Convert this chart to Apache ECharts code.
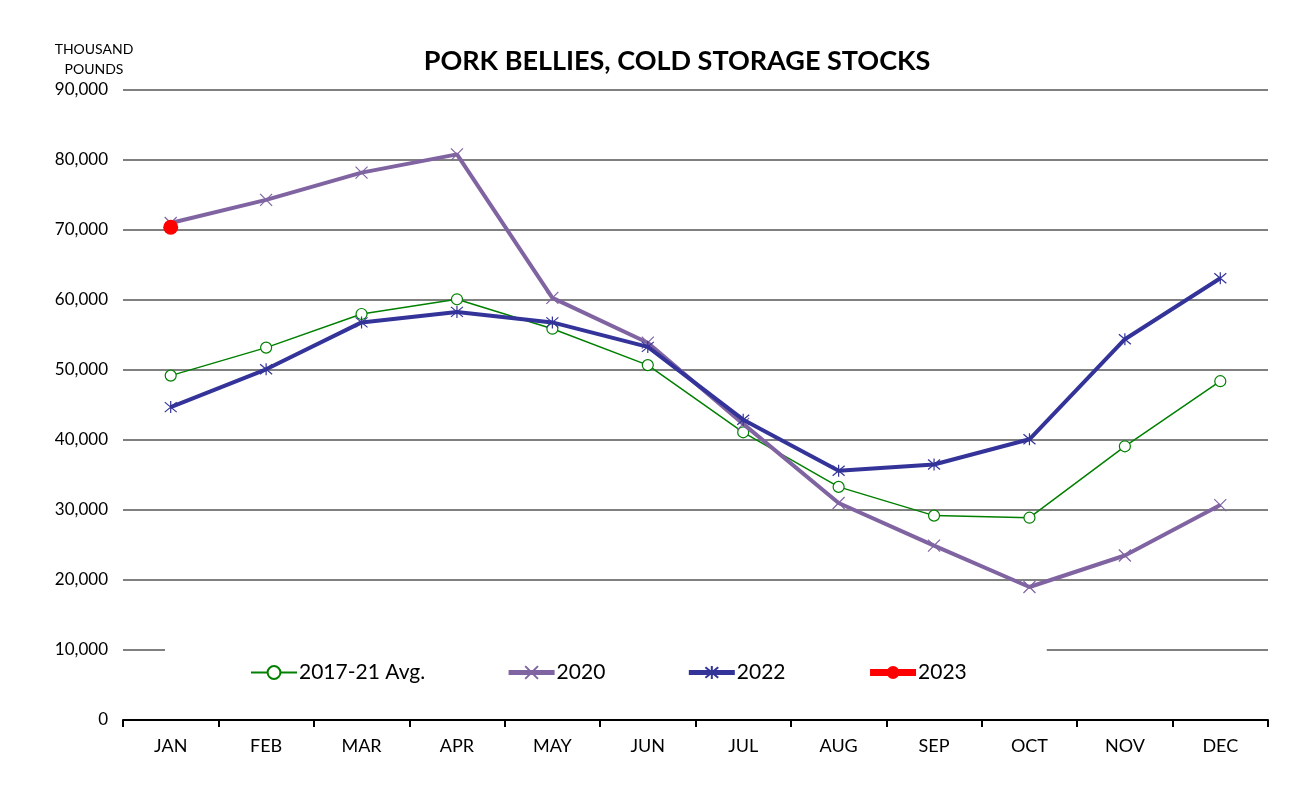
<!DOCTYPE html>
<html>
<head>
<meta charset="utf-8">
<script src="https://cdn.jsdelivr.net/npm/echarts@6/dist/echarts.min.js"></script>
<style>
  html, body { margin: 0; padding: 0; background: #fff; }
  #main { width: 1308px; height: 801px; }
</style>
</head>
<body>
<div id="main"></div>
<script>
var months = ['JAN', 'FEB', 'MAR', 'APR', 'MAY', 'JUN', 'JUL', 'AUG', 'SEP', 'OCT', 'NOV', 'DEC'];
var avg1721 = [49200, 53200, 58000, 60100, 55900, 50700, 41100, 33300, 29200, 28900, 39100, 48400];
var y2020 = [71000, 74300, 78200, 80800, 60300, 53900, 42300, 31000, 24900, 19000, 23500, 30700];
var y2022 = [44700, 50100, 56800, 58300, 56800, 53300, 42900, 35600, 36500, 40100, 54400, 63100];
var y2023 = [70400];
var yTicks = [0, 10000, 20000, 30000, 40000, 50000, 60000, 70000, 80000, 90000];

var font = 'Lato';
// X and asterisk markers, stroked like the spreadsheet ones
var xMark = 'path://M0,0L10,10M10,0L0,10';
var starMark = 'path://M0,0L10,10M10,0L0,10M5,-1L5,11';

var chart = echarts.init(document.getElementById('main'));
var option = {
    backgroundColor: '#fff',
    animation: false,
    title: {
        text: 'PORK BELLIES, COLD STORAGE STOCKS',
        left: 672,
        textAlign: 'center',
        top: 43,
        textStyle: { fontFamily: font, fontWeight: 'bold', fontSize: 27, color: '#000' }
    },
    graphic: [{
        type: 'text',
        x: 94,
        y: 39,
        style: {
            text: 'THOUSAND\nPOUNDS',
            fontFamily: font,
            fontSize: 14,
            lineHeight: 20,
            align: 'center',
            verticalAlign: 'top',
            fill: '#000'
        }
    }],
    legend: {
        left: 165,
        top: 638,
        backgroundColor: '#fff',
        padding: [24, 80, 16, 85],
        itemWidth: 46,
        itemHeight: 16,
        itemGap: 81,
        textStyle: { fontFamily: font, fontSize: 21, color: '#000', padding: [0, 0, 0, -3] },
        data: [
            { name: '2017-21 Avg.', lineStyle: { width: 2 } },
            { name: '2020', lineStyle: { width: 5 } },
            { name: '2022', lineStyle: { width: 5 } },
            { name: '2023', lineStyle: { width: 7 } }
        ]
    },
    grid: { left: 123, right: 40, top: 90, bottom: 81 },
    xAxis: {
        type: 'category',
        data: months,
        boundaryGap: true,
        axisLine: { lineStyle: { color: '#000', width: 2 } },
        axisTick: { show: true, length: 7, lineStyle: { color: '#000', width: 2 } },
        axisLabel: { fontFamily: font, fontSize: 18, color: '#000', margin: 17 }
    },
    yAxis: {
        type: 'value',
        min: 0,
        max: 90000,
        interval: 10000,
        axisLine: { show: false },
        axisTick: { show: false },
        splitLine: { lineStyle: { color: '#808080', width: 2 } },
        axisLabel: {
            fontFamily: font, fontSize: 17, color: '#000', margin: 15,
            formatter: function (v) { return yTicks.indexOf(v) >= 0 ? v.toLocaleString('en-US') : ''; }
        }
    },
    series: [{
        name: '2017-21 Avg.',
        type: 'line',
        data: avg1721,
        symbol: 'circle',
        symbolSize: 11,
        lineStyle: { color: '#008000', width: 1.5 },
        itemStyle: { color: '#fff', borderColor: '#008000', borderWidth: 1.2 },
        z: 2
    }, {
        name: '2020',
        type: 'line',
        data: y2020,
        symbol: xMark,
        symbolSize: 12,
        lineStyle: { color: '#8064A2', width: 4 },
        itemStyle: { color: '#8064A2', borderColor: '#8064A2', borderWidth: 1.2 },
        z: 3
    }, {
        name: '2022',
        type: 'line',
        data: y2022,
        symbol: starMark,
        symbolSize: 12,
        lineStyle: { color: '#333399', width: 4 },
        itemStyle: { color: '#333399', borderColor: '#333399', borderWidth: 1.2 },
        z: 4
    }, {
        name: '2023',
        type: 'line',
        data: y2023,
        symbol: 'circle',
        symbolSize: 15,
        lineStyle: { color: '#FF0000', width: 6 },
        itemStyle: { color: '#FF0000' },
        z: 5
    }]
};
chart.setOption(option);
</script>
</body>
</html>
